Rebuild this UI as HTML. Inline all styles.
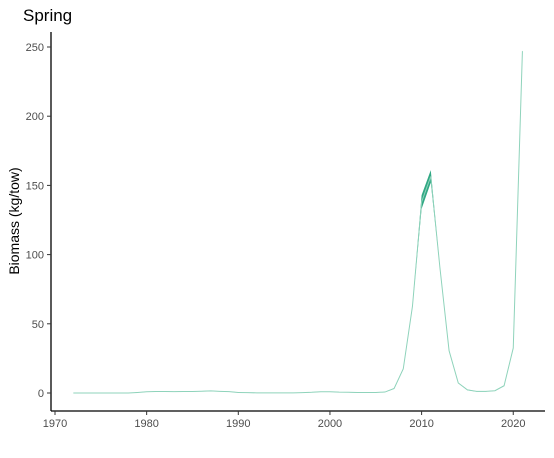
<!DOCTYPE html>
<html><head><meta charset="utf-8"><style>
body{margin:0;background:#fff;font-family:"Liberation Sans",Arial,sans-serif}
</style></head><body>
<svg width="554" height="453" xmlns="http://www.w3.org/2000/svg">
<text x="23" y="21" font-size="17" fill="#000">Spring</text>
<text transform="translate(19,221) rotate(-90)" text-anchor="middle" font-size="14" fill="#000">Biomass (kg/tow)</text>
<g id="axes"></g>
<g id="marks"></g>
</svg>
<script>
const years=[1972,1973,1974,1975,1976,1977,1978,1979,1980,1981,1982,1983,1984,1985,1986,1987,1988,1989,1990,1991,1992,1993,1994,1995,1996,1997,1998,1999,2000,2001,2002,2003,2004,2005,2006,2007,2008,2009,2010,2011,2012,2013,2014,2015,2016,2017,2018,2019,2020,2021];
const lower=[0,0,0,0,0,0,0,0.3,0.8,1,1,0.9,1,1,1.2,1.4,1.1,0.9,0.3,0.2,0,0,0,0,0,0.2,0.4,0.8,0.8,0.5,0.4,0.3,0.3,0.3,0.6,3,17,62,133,152,90,30,7,2,1,1,1.5,5,32,246];
const upper=[0,0,0,0,0,0,0,0.5,1,1.2,1.2,1.1,1.2,1.2,1.4,1.6,1.3,1.1,0.5,0.4,0.2,0.2,0.2,0.2,0.2,0.4,0.6,1,1,0.7,0.6,0.5,0.5,0.5,0.8,3.5,18,63,143,161,91,31,7.5,2.5,1.3,1.3,1.8,5.5,33,248];
const xTicks=[1970,1980,1990,2000,2010,2020];
const yTicks=[0,50,100,150,200,250];
const NS="http://www.w3.org/2000/svg";
const X=y=>55+(y-1970)*9.165;
const Y=v=>393-v*1.384;
const axes=document.getElementById('axes'),marks=document.getElementById('marks');
function mk(tag,attrs,parent){const e=document.createElementNS(NS,tag);for(const k in attrs)e.setAttribute(k,attrs[k]);parent.appendChild(e);return e;}
let a=mk('line',{x1:51,y1:32,x2:51,y2:411,stroke:'#000','stroke-width':1.3},axes);


a=mk('line',{x1:51,y1:411,x2:545,y2:411,stroke:'#000','stroke-width':1.3},axes);


yTicks.forEach(v=>{
 const t=mk('line',{x1:47,x2:51,y1:Y(v),y2:Y(v),stroke:'#333'},axes);
 
 
 const l=mk('text',{x:44,y:Y(v)+4,'text-anchor':'end','font-size':11,fill:'#4d4d4d'},axes);
 l.textContent=v;
 
 
});
xTicks.forEach(v=>{
 const t=mk('line',{x1:X(v),x2:X(v),y1:411,y2:415,stroke:'#333'},axes);
 
 
 const l=mk('text',{x:X(v),y:427,'text-anchor':'middle','font-size':11,fill:'#4d4d4d'},axes);
 l.textContent=v;
 
 
});
let pts=years.map((y,i)=>X(y)+','+Y(upper[i])).concat(years.map((y,i)=>X(y)+','+Y(lower[i])).reverse()).join(' ');
const rib=mk('polygon',{points:pts,fill:'#1b9e77',opacity:0.9},marks);


const mid=years.map((y,i)=>X(y)+','+Y((lower[i]+upper[i])/2)).join(' ');
const ln=mk('polyline',{points:mid,fill:'none',stroke:'#8fd3bb','stroke-width':1},marks);


</script>
</body></html>
